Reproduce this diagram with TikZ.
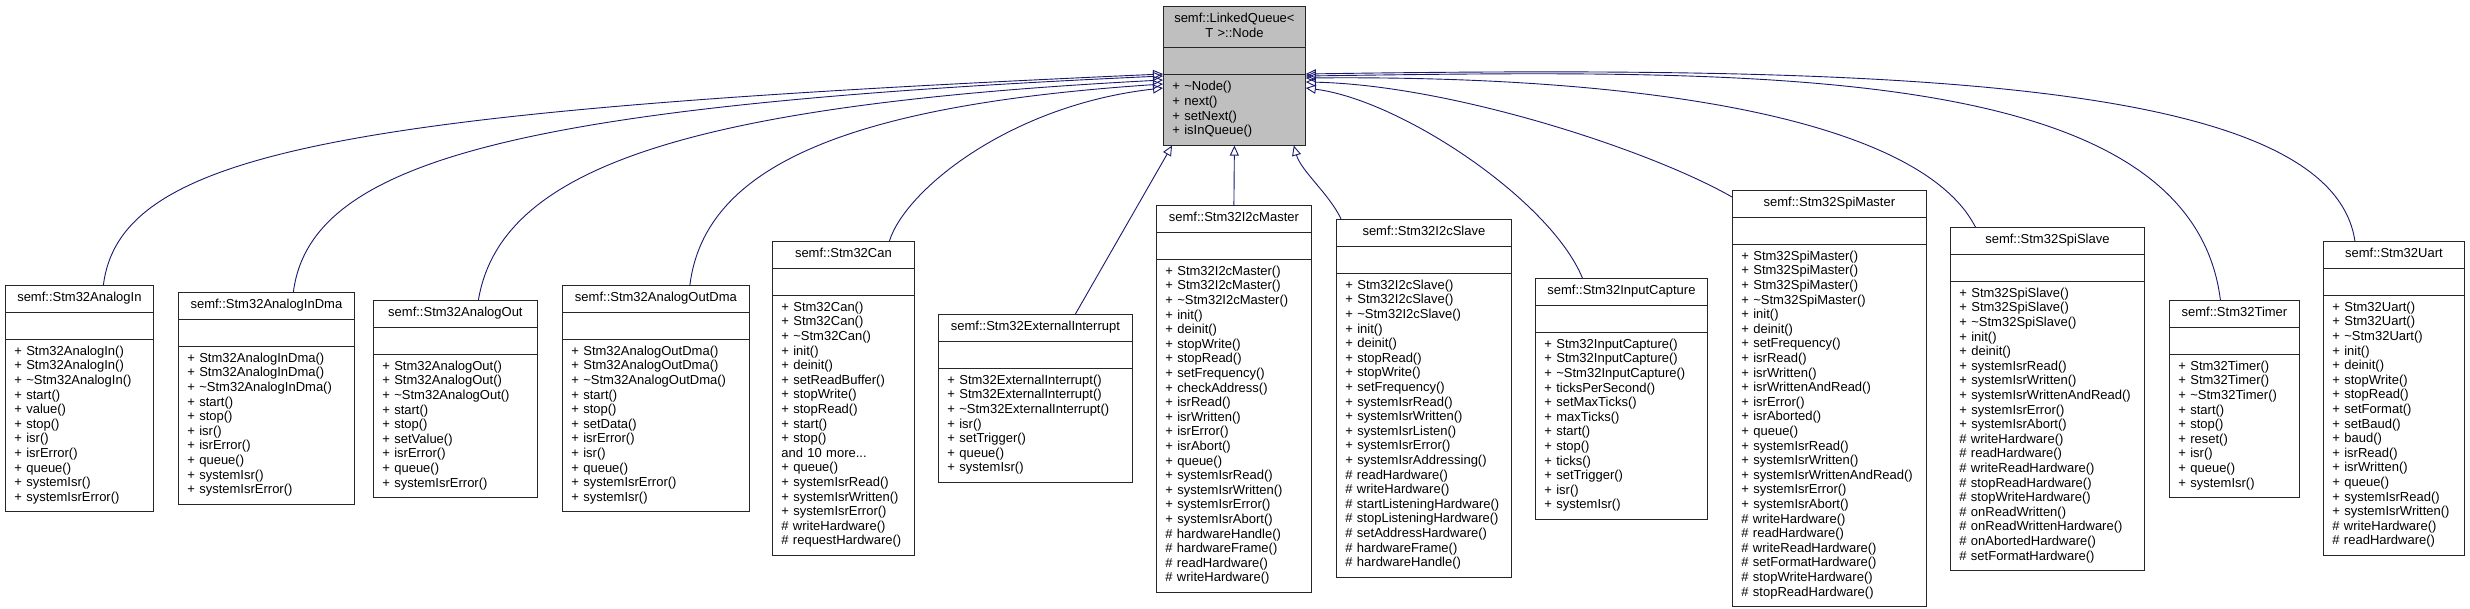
\documentclass[tikz,border=0pt]{standalone}
\usepackage{fontspec}
\newfontfamily\umlfont{Liberation Sans}
\usetikzlibrary{shapes.multipart,arrows.meta}
\definecolor{edgeblue}{HTML}{191970}
\definecolor{basegray}{HTML}{BFBFBF}

\tikzset{
  cls/.style={rectangle split, rectangle split parts=3, draw=black!85, line width=0.8pt,
    fill=white, text width=#1, align=left, inner xsep=9pt, inner ysep=5.7pt,
    font=\umlfont\fontsize{13}{14.6}\selectfont, anchor=north west},
  inh/.style={draw=edgeblue, line width=0.9pt, -{Triangle[open,length=10pt,width=9pt]}}
}
\newcommand{\ttl}[1]{\hbox to \linewidth{\hfil\strut #1\hfil}}
\newcommand{\tld}{\textasciitilde}

\begin{document}
\begin{tikzpicture}[x=1pt,y=1pt]
\useasboundingbox (0,0) rectangle (2470,-609);
\fill[white] (0,0) rectangle (2470,-609);

% base class
\node[cls=124pt, fill=basegray] (lq) at (1163,-6)
  {\ttl{semf::LinkedQueue<}\par\ttl{T >::Node}\nodepart{two}\strut\nodepart{three}\strut
   + \tld Node()\\ + next()\\ + setNext()\\ + isInQueue()\strut};

% derived classes
\node[cls=130pt] (ain) at (5,-285)
  {\ttl{semf::Stm32AnalogIn}\nodepart{two}\strut\nodepart{three}\strut
   + Stm32AnalogIn()\\ + Stm32AnalogIn()\\ + \tld Stm32AnalogIn()\\ + start()\\ + value()\\
   + stop()\\ + isr()\\ + isrError()\\ + queue()\\ + systemIsr()\\ + systemIsrError()\strut};

\node[cls=158pt] (aindma) at (178,-292)
  {\ttl{semf::Stm32AnalogInDma}\nodepart{two}\strut\nodepart{three}\strut
   + Stm32AnalogInDma()\\ + Stm32AnalogInDma()\\ + \tld Stm32AnalogInDma()\\ + start()\\
   + stop()\\ + isr()\\ + isrError()\\ + queue()\\ + systemIsr()\\ + systemIsrError()\strut};

\node[cls=146pt] (aout) at (373,-300)
  {\ttl{semf::Stm32AnalogOut}\nodepart{two}\strut\nodepart{three}\strut
   + Stm32AnalogOut()\\ + Stm32AnalogOut()\\ + \tld Stm32AnalogOut()\\ + start()\\
   + stop()\\ + setValue()\\ + isrError()\\ + queue()\\ + systemIsrError()\strut};

\node[cls=169pt] (aoutdma) at (562,-285)
  {\ttl{semf::Stm32AnalogOutDma}\nodepart{two}\strut\nodepart{three}\strut
   + Stm32AnalogOutDma()\\ + Stm32AnalogOutDma()\\ + \tld Stm32AnalogOutDma()\\ + start()\\
   + stop()\\ + setData()\\ + isrError()\\ + isr()\\ + queue()\\ + systemIsrError()\\
   + systemIsr()\strut};

\node[cls=124pt] (can) at (772,-241)
  {\ttl{semf::Stm32Can}\nodepart{two}\strut\nodepart{three}\strut
   + Stm32Can()\\ + Stm32Can()\\ + \tld Stm32Can()\\ + init()\\ + deinit()\\
   + setReadBuffer()\\ + stopWrite()\\ + stopRead()\\ + start()\\ + stop()\\
   and 10 more...\\ + queue()\\ + systemIsrRead()\\ + systemIsrWritten()\\
   + systemIsrError()\\ \# writeHardware()\\ \# requestHardware()\strut};

\node[cls=176pt] (ext) at (938,-314)
  {\ttl{semf::Stm32ExternalInterrupt}\nodepart{two}\strut\nodepart{three}\strut
   + Stm32ExternalInterrupt()\\ + Stm32ExternalInterrupt()\\ + \tld Stm32ExternalInterrupt()\\
   + isr()\\ + setTrigger()\\ + queue()\\ + systemIsr()\strut};

\node[cls=137pt] (i2cm) at (1156,-205)
  {\ttl{semf::Stm32I2cMaster}\nodepart{two}\strut\nodepart{three}\strut
   + Stm32I2cMaster()\\ + Stm32I2cMaster()\\ + \tld Stm32I2cMaster()\\ + init()\\
   + deinit()\\ + stopWrite()\\ + stopRead()\\ + setFrequency()\\ + checkAddress()\\
   + isrRead()\\ + isrWritten()\\ + isrError()\\ + isrAbort()\\ + queue()\\
   + systemIsrRead()\\ + systemIsrWritten()\\ + systemIsrError()\\ + systemIsrAbort()\\
   \# hardwareHandle()\\ \# hardwareFrame()\\ \# readHardware()\\ \# writeHardware()\strut};

\node[cls=157pt] (i2cs) at (1336,-219)
  {\ttl{semf::Stm32I2cSlave}\nodepart{two}\strut\nodepart{three}\strut
   + Stm32I2cSlave()\\ + Stm32I2cSlave()\\ + \tld Stm32I2cSlave()\\ + init()\\
   + deinit()\\ + stopRead()\\ + stopWrite()\\ + setFrequency()\\ + systemIsrRead()\\
   + systemIsrWritten()\\ + systemIsrListen()\\ + systemIsrError()\\
   + systemIsrAddressing()\\ \# readHardware()\\ \# writeHardware()\\
   \# startListeningHardware()\\ \# stopListeningHardware()\\ \# setAddressHardware()\\
   \# hardwareFrame()\\ \# hardwareHandle()\strut};

\node[cls=154pt] (incap) at (1535,-278)
  {\ttl{semf::Stm32InputCapture}\nodepart{two}\strut\nodepart{three}\strut
   + Stm32InputCapture()\\ + Stm32InputCapture()\\ + \tld Stm32InputCapture()\\
   + ticksPerSecond()\\ + setMaxTicks()\\ + maxTicks()\\ + start()\\ + stop()\\
   + ticks()\\ + setTrigger()\\ + isr()\\ + systemIsr()\strut};

\node[cls=176pt] (spim) at (1732,-190)
  {\ttl{semf::Stm32SpiMaster}\nodepart{two}\strut\nodepart{three}\strut
   + Stm32SpiMaster()\\ + Stm32SpiMaster()\\ + Stm32SpiMaster()\\ + \tld Stm32SpiMaster()\\
   + init()\\ + deinit()\\ + setFrequency()\\ + isrRead()\\ + isrWritten()\\
   + isrWrittenAndRead()\\ + isrError()\\ + isrAborted()\\ + queue()\\
   + systemIsrRead()\\ + systemIsrWritten()\\ + systemIsrWrittenAndRead()\\
   + systemIsrError()\\ + systemIsrAbort()\\ \# writeHardware()\\ \# readHardware()\\
   \# writeReadHardware()\\ \# setFormatHardware()\\ \# stopWriteHardware()\\
   \# stopReadHardware()\strut};

\node[cls=176pt] (spis) at (1950,-227)
  {\ttl{semf::Stm32SpiSlave}\nodepart{two}\strut\nodepart{three}\strut
   + Stm32SpiSlave()\\ + Stm32SpiSlave()\\ + \tld Stm32SpiSlave()\\ + init()\\
   + deinit()\\ + systemIsrRead()\\ + systemIsrWritten()\\ + systemIsrWrittenAndRead()\\
   + systemIsrError()\\ + systemIsrAbort()\\ \# writeHardware()\\ \# readHardware()\\
   \# writeReadHardware()\\ \# stopReadHardware()\\ \# stopWriteHardware()\\
   \# onReadWritten()\\ \# onReadWrittenHardware()\\ \# onAbortedHardware()\\
   \# setFormatHardware()\strut};

\node[cls=112pt] (timer) at (2169,-300)
  {\ttl{semf::Stm32Timer}\nodepart{two}\strut\nodepart{three}\strut
   + Stm32Timer()\\ + Stm32Timer()\\ + \tld Stm32Timer()\\ + start()\\ + stop()\\
   + reset()\\ + isr()\\ + queue()\\ + systemIsr()\strut};

\node[cls=123pt] (uart) at (2323,-241)
  {\ttl{semf::Stm32Uart}\nodepart{two}\strut\nodepart{three}\strut
   + Stm32Uart()\\ + Stm32Uart()\\ + \tld Stm32Uart()\\ + init()\\ + deinit()\\
   + stopWrite()\\ + stopRead()\\ + setFormat()\\ + setBaud()\\ + baud()\\
   + isrRead()\\ + isrWritten()\\ + queue()\\ + systemIsrRead()\\
   + systemIsrWritten()\\ \# writeHardware()\\ \# readHardware()\strut};

% inheritance edges, left side
\draw[inh] ([xshift=24pt]ain.north) .. controls +(17,135) and +(-813,-36) .. ([yshift=-68pt]lq.north west);
\draw[inh] ([xshift=27pt]aindma.north) .. controls +(17,132) and +(-643,-29) .. ([yshift=-70pt]lq.north west);
\draw[inh] ([xshift=23pt]aout.north) .. controls +(22,130) and +(-483,-25) .. ([yshift=-74pt]lq.north west);
\draw[inh] ([xshift=34pt]aoutdma.north) .. controls +(15,120) and +(-313,-21) .. ([yshift=-78pt]lq.north west);
\draw[inh] ([xshift=46pt]can.north) .. controls +(16,51) and +(-153,-17) .. ([yshift=-82pt]lq.north west);

% bottom
\draw[inh] ([xshift=40pt]ext.north) -- ([xshift=9pt]lq.south west);
\draw[inh] (i2cm.north) -- (lq.south);
\draw[inh] ([xshift=5pt]i2cs.north west) .. controls +(-11,24) and +(7,-25) .. ([xshift=-12pt]lq.south east);

% right side
\draw[inh] ([xshift=-39pt]incap.north) .. controls +(-32,78) and +(95,-12) .. ([yshift=-82pt]lq.north east);
\draw[inh] ([yshift=-7pt]spim.north west) .. controls +(-82,47) and +(145,-3) .. ([yshift=-76pt]lq.north east);
\draw[inh] ([xshift=-72pt]spis.north) .. controls +(-55,107) and +(345,3) .. ([yshift=-72pt]lq.north east);
\draw[inh] ([xshift=-14pt]timer.north) .. controls +(-30,240) and +(445,6) .. ([yshift=-70pt]lq.north east);
\draw[inh] ([xshift=-39pt]uart.north) .. controls +(-24,161) and +(595,9) .. ([yshift=-68pt]lq.north east);

\end{tikzpicture}
\end{document}
